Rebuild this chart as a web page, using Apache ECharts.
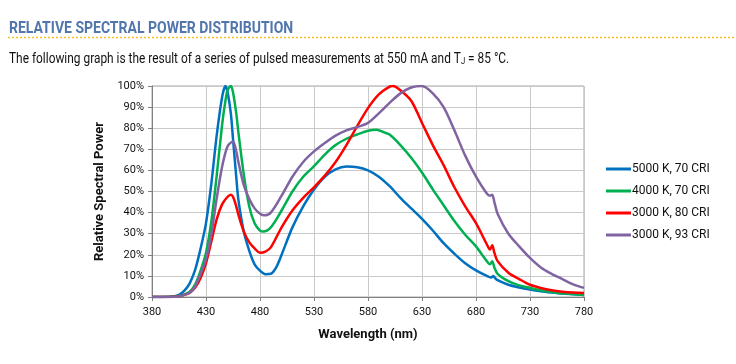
<!DOCTYPE html>
<html><head><meta charset="utf-8">
<script src="https://cdn.jsdelivr.net/npm/echarts@6/dist/echarts.min.js"></script>
<style>html,body{margin:0;padding:0;background:#fff}#c{width:736px;height:364px}</style>
</head><body><div id="c"></div>
<script>
const seriesNames = ['5000 K, 70 CRI', '4000 K, 70 CRI', '3000 K, 80 CRI', '3000 K, 93 CRI'];
const seriesColors = ['#0070c0', '#00b050', '#ff0000', '#8064a2'];
const xTicks = [380, 430, 480, 530, 580, 630, 680, 730, 780];

const wlBlue  = [380,390,400,405,410,415,420,425,430,435,440,445,448,450,453,455,458,460,465,470,475,480,485,490,495,500,510,520,530,540,550,560,570,580,590,600,610,620,630,640,650,660,670,680,690,694,696,698,700,710,720,730,740,750,760,770,780];
const blue    = [0,0,0.3,1,3,6.6,13,23,35,54,77,95,100,97,87,75,57,46,31,22,15.5,12.5,10.8,11,14,20,33,43,51,57,60.5,61.8,61.5,60,57,52.5,47,42,37,31.5,25.5,20.5,16,12.6,10,9.3,9.9,8.8,8,5.8,4.5,3.5,2.7,2.1,1.6,1.3,1.0];

const wlGreen = [380,390,400,405,410,415,420,425,430,435,440,445,448,450,453,455,458,460,465,470,475,480,483,490,500,510,520,530,540,550,560,570,580,588,595,600,610,620,630,640,650,660,670,680,690,693,695,697,700,710,720,730,740,750,760,770,780];
const green   = [0,0,0.2,0.5,1.2,2.5,6,12.5,21,36,58,82,93,98,100,97,87,78,58,43,35,31.5,31,33,41,50,57,62,67.5,72,75,77,78.8,79.3,78,77,72,66,59,51,43.5,36,29.5,24,17,15.5,17,14,11,7.5,5.5,4.3,3.2,2.4,1.8,1.4,1.0];

const wlRed   = [380,390,400,405,410,415,420,425,430,435,440,445,450,453,455,458,460,465,470,475,480,485,490,500,510,520,530,540,550,560,570,580,590,600,603,610,620,630,640,650,660,670,680,690,693,695,697,700,710,720,730,740,750,760,770,780];
const red     = [0,0,0.1,0.4,1,2,4.5,9,16,26.5,37,44,47.5,48.5,47.5,43,39,31,26,23,21,21.5,23.5,33,41,47,52,57.5,64,72,81,89.5,96,99.7,100,98,93,82.5,72,62.5,52,43,35,25,22.5,24.5,21,17,11.5,8.5,5.8,4.3,3.2,2.5,2.1,1.9];

const wlPurple= [380,390,400,405,410,415,420,425,430,435,440,445,450,455,458,460,465,470,475,480,484,490,500,510,520,530,540,550,560,570,580,590,600,610,620,630,640,650,660,670,680,690,693,695,697,700,710,720,730,740,750,760,770,780];
const purple  = [0,0,0.1,0.4,1,2,5,11,18,30,47,62,71.5,73.7,69,64,53,46.5,42,39.5,38.7,40,48,57,64,69,73,76.5,79,80.5,82.5,87,92,96.5,99.3,100,96.5,90,79,67,57,49,48,48.5,45,39.5,30,24,18.5,14,11,8.5,6,4.3];

const wls = [wlBlue, wlGreen, wlRed, wlPurple];
const vals = [blue, green, red, purple];

const chart = echarts.init(document.getElementById('c'), null, {renderer: 'canvas'});
chart.setOption({
  animation: false,
  backgroundColor: '#fff',
  graphic: [
    {type: 'text', x: 9, y: 21, scaleX: 0.875, style: {text: 'RELATIVE SPECTRAL POWER DISTRIBUTION', fill: '#5176ad', font: 'bold 16px Roboto, sans-serif'}},
    {type: 'line', shape: {x1: 8, y1: 37.5, x2: 736, y2: 37.5}, style: {stroke: '#f5c11c', lineWidth: 1.5, lineDash: [2, 2]}},
    {type: 'text', x: 9, y: 51.5, scaleX: 0.85, style: {
      text: 'The following graph is the result of a series of pulsed measurements at 550 mA and T{sub|J} = 85 °C.',
      fill: '#111', font: '14px Roboto, sans-serif',
      rich: {sub: {fontSize: 9, fontFamily: 'Roboto, sans-serif', fill: '#111', padding: [6, 0, 0, 0]}}
    }}
  ],
  grid: {left: 152, right: 152, top: 86, bottom: 67, show: true, borderColor: '#a6a6a6', borderWidth: 1},
  legend: {
    orient: 'vertical', left: 606, top: 163, padding: 0, itemWidth: 25, itemHeight: 3, itemGap: 10, icon: 'rect',
    data: seriesNames,
    textStyle: {fontFamily: 'Roboto, sans-serif', fontSize: 12, color: '#111', padding: [0, 0, 0, -4]}
  },
  xAxis: {
    type: 'value', min: xTicks[0], max: xTicks[xTicks.length - 1], interval: 50,
    name: 'Wavelength (nm)', nameLocation: 'middle', nameGap: 31,
    nameTextStyle: {fontFamily: 'Roboto, sans-serif', fontWeight: 'bold', fontSize: 13, color: '#111'},
    axisLine: {lineStyle: {color: '#808080', width: 1}},
    axisTick: {show: true, length: 4, lineStyle: {color: '#808080'}},
    axisLabel: {fontFamily: 'Roboto, sans-serif', fontSize: 11, color: '#111', margin: 10},
    splitLine: {show: true, lineStyle: {color: '#c9c9c9', width: 1}}
  },
  yAxis: {
    type: 'value', min: 0, max: 100, interval: 10,
    name: 'Relative Spectral Power', nameLocation: 'middle', nameGap: 42,
    nameTextStyle: {fontFamily: 'Roboto, sans-serif', fontWeight: 'bold', fontSize: 13, color: '#111'},
    axisLine: {show: true, lineStyle: {color: '#808080', width: 1}},
    axisTick: {show: true, length: 4, lineStyle: {color: '#808080'}},
    axisLabel: {fontFamily: 'Roboto, sans-serif', fontSize: 11, color: '#111', formatter: '{value}%', margin: 8},
    splitLine: {show: true, lineStyle: {color: '#c9c9c9', width: 1}}
  },
  series: seriesNames.map((n, i) => ({
    name: n, type: 'line', showSymbol: false, smooth: 0.3,
    color: seriesColors[i], lineStyle: {width: 2.5, color: seriesColors[i]},
    data: wls[i].map((w, j) => [w, vals[i][j]])
  }))
});
</script></body></html>
